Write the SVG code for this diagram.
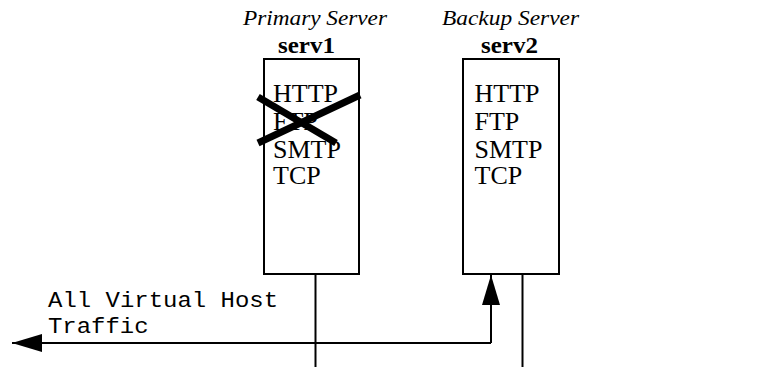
<svg xmlns="http://www.w3.org/2000/svg" width="760" height="367" viewBox="0 0 760 367">
<style>
.box{fill:#fff;stroke:#000;stroke-width:2}
.title{font-family:"Liberation Serif","Times New Roman",serif;font-style:italic;font-size:22px;fill:#000}
.name{font-family:"Liberation Serif","Times New Roman",serif;font-weight:bold;font-size:23px;fill:#000}
.proto{font-family:"Liberation Serif","Times New Roman",serif;font-size:26px;fill:#000}
.lbl{font-family:"Liberation Mono","Courier New",monospace;font-size:22px;fill:#000}
.wire{fill:none;stroke:#000;stroke-width:2}
.cross{stroke:#000;stroke-width:7}
</style>
<defs>
<marker id="ah" viewBox="0 0 30 18" refX="30" refY="9" markerWidth="30" markerHeight="18" markerUnits="userSpaceOnUse" orient="auto">
<path d="M0,0 L30,9 L0,18 Z" fill="#000"/>
</marker>
</defs>
<g id="serv1">
<text class="title" x="243" y="25" textLength="144" lengthAdjust="spacingAndGlyphs">Primary Server</text>
<text class="name" x="278" y="53" textLength="57" lengthAdjust="spacingAndGlyphs">serv1</text>
<rect class="box" x="264" y="59" width="95" height="215"/>
<text class="proto" x="273" y="102">HTTP</text>
<text class="proto" x="273" y="130">FTP</text>
<text class="proto" x="273" y="157.5">SMTP</text>
<text class="proto" x="273" y="184">TCP</text>
<line class="cross" x1="258" y1="97" x2="336" y2="143"/>
<line class="cross" x1="258" y1="143" x2="360" y2="95"/>
</g>
<g id="serv2">
<text class="title" x="442" y="25" textLength="137" lengthAdjust="spacingAndGlyphs">Backup Server</text>
<text class="name" x="481" y="53" textLength="57" lengthAdjust="spacingAndGlyphs">serv2</text>
<rect class="box" x="463" y="59" width="96" height="215"/>
<text class="proto" x="474.5" y="102">HTTP</text>
<text class="proto" x="474.5" y="130">FTP</text>
<text class="proto" x="474.5" y="157.5">SMTP</text>
<text class="proto" x="474.5" y="184">TCP</text>
</g>
<g id="connectors">
<line class="wire" x1="315.5" y1="275" x2="315.5" y2="367"/>
<line class="wire" x1="522.5" y1="275" x2="522.5" y2="367"/>
<polyline class="wire" points="491,343 491,275" marker-end="url(#ah)"/>
<polyline class="wire" points="491,343 12,343" marker-end="url(#ah)"/>
<text class="lbl" x="48" y="306.5" textLength="230" lengthAdjust="spacingAndGlyphs">All Virtual Host</text>
<text class="lbl" x="48" y="333" textLength="100.6" lengthAdjust="spacingAndGlyphs">Traffic</text>
</g>
</svg>
